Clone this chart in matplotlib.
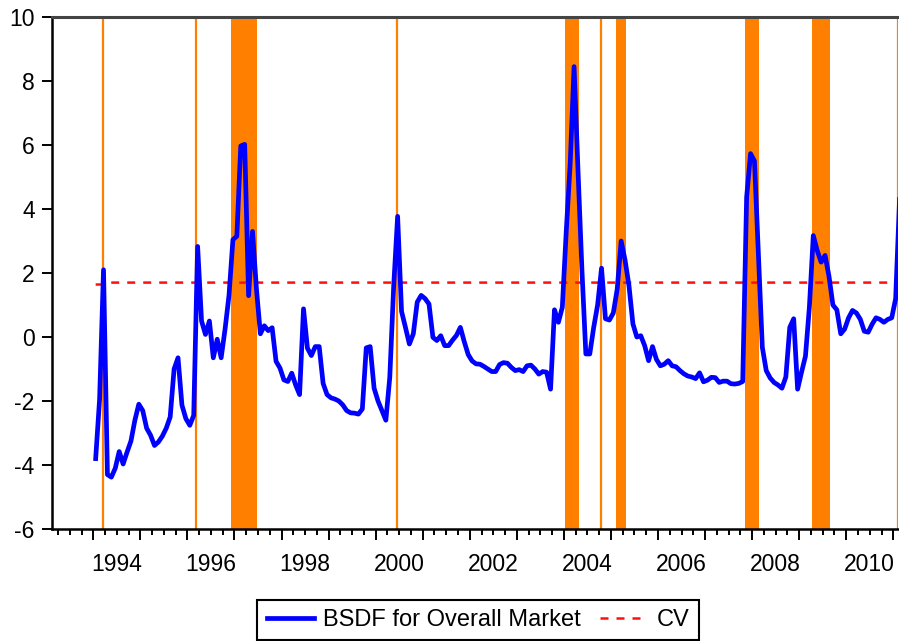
import numpy as np
import matplotlib
matplotlib.use("Agg")
import matplotlib.pyplot as plt

plt.rcParams['font.family'] = ['Liberation Sans', 'DejaVu Sans']
plt.rcParams['axes.unicode_minus'] = False

# Monthly series (first observation ~Jan 1994)
start_year = 1994.05
bsdf = [
    -3.8, -1.95, 2.1, -4.3, -4.38, -4.1, -3.58, -3.97, -3.6, -3.25,
    -2.6, -2.1, -2.3, -2.85, -3.07, -3.39, -3.28, -3.1, -2.85, -2.5,
    -1.0, -0.65, -2.13, -2.55, -2.76, -2.45, 2.83, 0.5, 0.08, 0.5,
    -0.65, -0.07, -0.65, 0.25, 1.3, 3.04, 3.15, 5.97, 6.02, 1.29,
    3.3, 1.5, 0.1, 0.35, 0.2, 0.29, -0.76, -0.97, -1.34, -1.39,
    -1.13, -1.5, -1.8, 0.88, -0.35, -0.58, -0.3, -0.3, -1.45, -1.8,
    -1.9, -1.94, -2.0, -2.12, -2.3, -2.37, -2.38, -2.41, -2.25, -0.34,
    -0.3, -1.6, -2.0, -2.3, -2.6, -1.26, 1.6, 3.77, 0.8, 0.3,
    -0.22, 0.1, 1.09, 1.3, 1.2, 1.03, -0.01, -0.11, 0.04, -0.27,
    -0.27, -0.1, 0.05, 0.3, -0.15, -0.55, -0.75, -0.84, -0.85, -0.92,
    -1.0, -1.08, -1.08, -0.86, -0.8, -0.82, -0.95, -1.05, -1.02, -1.08,
    -0.9, -0.88, -1.0, -1.16, -1.08, -1.1, -1.63, 0.85, 0.46, 0.93,
    3.3, 5.4, 8.45, 5.2, 2.1, -0.53, -0.53, 0.3, 1.0, 2.15,
    0.57, 0.53, 0.75, 1.5, 3.0, 2.4, 1.6, 0.41, 0.0, 0.04,
    -0.27, -0.74, -0.3, -0.7, -0.9, -0.85, -0.74, -0.9, -0.93, -1.05,
    -1.15, -1.22, -1.25, -1.3, -1.12, -1.4, -1.35, -1.26, -1.27, -1.42,
    -1.38, -1.38, -1.46, -1.47, -1.45, -1.39, 4.37, 5.73, 5.5, 2.6,
    -0.32, -1.05, -1.28, -1.42, -1.5, -1.6, -1.25, 0.3, 0.57, -1.63,
    -1.1, -0.6, 0.93, 3.17, 2.7, 2.34, 2.55, 1.9, 1.0, 0.85,
    0.1, 0.25, 0.6, 0.83, 0.75, 0.55, 0.18, 0.15, 0.4, 0.6,
    0.55, 0.46, 0.55, 0.6, 1.2, 4.3,
]
cv = [1.64, 1.64, 1.64] + [1.70] * (len(bsdf) - 3)
dates = start_year + np.arange(len(bsdf)) / 12.0

# Shaded episodes (decimal years) and single-month markers
band_starts = [1996.93, 2004.02, 2005.10, 2007.84, 2009.28]
band_ends = [1997.47, 2004.32, 2005.32, 2008.15, 2009.66]
single_lines = [1994.20, 1996.18, 2000.45, 2004.79, 2011.09]

year_ticks = list(range(1994, 2012))
label_years = [1994, 1996, 1998, 2000, 2002, 2004, 2006, 2008, 2010]

orange = '#FF8000'

fig = plt.figure(figsize=(8.99, 6.41), dpi=100)
ax = fig.add_axes([52 / 899, 1 - 529 / 641, 846 / 899, 512 / 641])

for s, e in zip(band_starts, band_ends):
    ax.axvspan(s, e, color=orange, lw=0, zorder=1)
for x in single_lines:
    ax.axvline(x, color=orange, lw=1.6, zorder=1)

ax.plot(dates, cv, color='#FF1010', lw=1.8, ls=(0, (3.2, 3.2)), zorder=2,
        label='CV')
ax.plot(dates, bsdf, color='#0000FF', lw=3.4, zorder=3,
        label='BSDF for Overall Market', solid_joinstyle='round')

ax.set_xlim(1993.122, 2011.10)
ax.set_ylim(-6, 10)
ax.set_yticks(range(-6, 11, 2))
ax.tick_params(axis='y', direction='out', length=7.5, width=1.4, pad=5,
               labelsize=16.5, colors='black')

ax.set_xticks(year_ticks)
ax.set_xticklabels([])
ax.set_xticks(np.arange(1993.25, 2011.01, 0.25), minor=True)
ax.tick_params(axis='x', which='major', direction='out', length=8, width=1.4)
ax.tick_params(axis='x', which='minor', direction='out', length=4.5, width=1.4)

sec = ax.secondary_xaxis('bottom')
sec.set_xticks([y + 0.5 for y in label_years])
sec.set_xticklabels([str(y) for y in label_years])
sec.tick_params(length=0, pad=17, labelsize=16.5)
sec.spines['bottom'].set_visible(False)

for side in ['left', 'bottom']:
    ax.spines[side].set_linewidth(1.8)
    ax.spines[side].set_color('black')
ax.spines['top'].set_linewidth(2.2)
ax.spines['top'].set_color('#444444')
ax.spines['right'].set_visible(False)

handles, labels = ax.get_legend_handles_labels()
order = [1, 0]
leg = fig.legend([handles[i] for i in order], [labels[i] for i in order],
                 loc='center', bbox_to_anchor=(478 / 899, 1 - 620 / 641),
                 ncol=2, fontsize=17, frameon=True, fancybox=False,
                 edgecolor='black', framealpha=1, handlelength=2.0,
                 handletextpad=0.4, columnspacing=0.8, borderpad=0.4)
leg.get_frame().set_linewidth(1.5)

fig.savefig('out.png', dpi=100)
